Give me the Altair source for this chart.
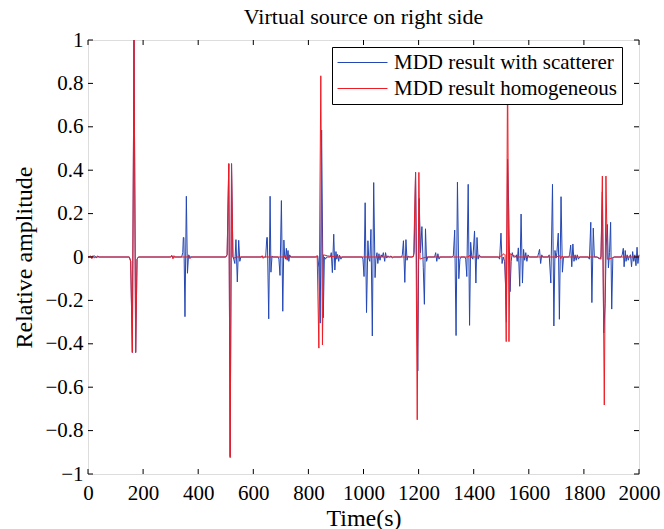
import altair as alt
import pandas as pd

# ---- MDD result with scatterer (blue trace): time (s) and relative amplitude ----
scatter_t = [
    0, 10, 25, 30, 35, 40, 150, 155, 161, 167, 173, 178, 183,
    300, 305, 310, 315, 340, 344, 346, 348, 352, 357, 361, 365, 370,
    500, 505, 511, 516, 521, 526, 529, 533, 537, 542, 547, 551, 555,
    640, 645, 649, 651, 656, 661, 664, 668, 672,
    690, 693, 697, 702, 707, 711, 714, 717, 720, 723, 726, 729, 732, 736,
    830, 834, 838, 843, 848, 854, 858, 862, 866, 880, 883, 887, 892, 896,
    900, 903, 906, 910, 913, 918, 922,
    995, 998, 1002, 1006, 1011, 1016, 1019, 1023, 1027, 1032, 1037, 1042,
    1045, 1049, 1052, 1056, 1060, 1064, 1068, 1072, 1077, 1080, 1084, 1088,
    1095, 1100, 1105, 1110,
    1138, 1141, 1145, 1150, 1154, 1158, 1162, 1166,
    1180, 1184, 1189, 1194, 1197, 1202, 1207, 1212, 1217, 1221, 1225, 1229,
    1233, 1258, 1262, 1266, 1270, 1274, 1278,
    1320, 1326, 1331, 1336, 1341, 1346, 1350, 1354,
    1368, 1371, 1375, 1380, 1385, 1389, 1393, 1397, 1403, 1408, 1412, 1416,
    1420, 1425,
    1490, 1494, 1499, 1503, 1507, 1512, 1516, 1519, 1523, 1527, 1532, 1536,
    1540, 1544,
    1552, 1555, 1558, 1562, 1567, 1572, 1577, 1581, 1585, 1589, 1593, 1597, 1602,
    1632, 1636, 1639, 1643, 1647, 1651,
    1670, 1674, 1680, 1686, 1691, 1695, 1699, 1702, 1707, 1711, 1717, 1722, 1726,
    1745, 1748, 1752, 1756, 1760, 1764, 1768, 1772, 1776, 1780, 1785,
    1815, 1820, 1825, 1829, 1834, 1838, 1850, 1856, 1862, 1867, 1872, 1877,
    1881, 1885, 1889, 1893, 1897, 1901, 1905, 1909,
    1935, 1939, 1943, 1946, 1950, 1953, 1957, 1961, 1965, 1969, 1973, 1977,
    1981, 1985, 1989, 1993, 1996, 2000,
]
scatter_amp = [
    0, 0.0, 0.005, -0.005, 0.005, 0, 0, -0.02, -0.44, 1.0, -0.44, -0.01, 0,
    0, 0.005, -0.005, 0, 0, 0.02, 0.09, 0.09, -0.275, 0.28, -0.075, 0.01, 0,
    0, 0.01, 0.43, -0.92, 0.43, 0.0, -0.01, -0.03, 0.08, -0.115, 0.077, -0.02, 0.0,
    0, 0.0, 0.09, 0.09, -0.285, 0.28, -0.07, 0.005, 0,
    0, -0.01, -0.085, 0.26, -0.25, 0.078, 0.0, -0.01, 0.04, -0.015, 0.03, -0.02, 0.01, 0,
    0, 0.005, -0.05, -0.305, 0.585, -0.28, 0.0, -0.01, 0.0, 0.0, 0.02, -0.072, 0.105, -0.06,
    0.025, -0.01, 0.012, -0.02, 0.008, -0.01, 0.0,
    0, -0.01, -0.09, 0.25, -0.256, 0.075, -0.005, -0.02, 0.127, -0.364, 0.343, -0.095,
    -0.01, 0.02, -0.03, 0.015, -0.015, 0.01, 0, 0.02, -0.02, 0.02, -0.005, 0.005,
    0, 0.005, -0.005, 0,
    0, 0.01, 0.075, -0.117, 0.08, -0.015, 0.005, 0,
    0, 0.02, 0.39, -0.2, -0.525, 0.27, 0.02, 0.14, -0.05, -0.218, 0.13, -0.02,
    0.0, 0, 0.02, -0.02, 0.015, -0.01, 0,
    0, 0.005, 0.124, -0.362, 0.345, -0.1, -0.01, 0.0,
    0, -0.01, -0.09, 0.335, -0.315, 0.068, 0.0, -0.01, 0.12, -0.12, 0.09, -0.01,
    0.01, 0,
    0, -0.01, 0.11, -0.03, 0.0, -0.02, -0.14, -0.3, 0.45, 0.23, -0.16, -0.02,
    0.02, 0,
    0, 0.01, -0.02, 0.042, -0.135, 0.198, -0.12, 0.035, -0.015, 0.02, -0.02, 0.01, 0,
    0, 0.02, 0.035, -0.03, 0.01, 0,
    0, 0.01, -0.12, 0.335, -0.318, 0.03, -0.005, 0.02, 0.11, -0.287, 0.278, -0.07, 0.0,
    0, 0.01, 0.055, -0.045, 0.06, -0.02, 0.01, -0.015, 0.01, -0.01, 0.0,
    0, -0.01, 0.16, -0.21, 0.133, 0.0, 0.0, -0.01, 0.0, 0.3, -0.35, -0.213,
    0.05, 0.15, -0.05, 0.02, 0.16, -0.24, -0.005, 0.0,
    0, 0.01, 0.04, -0.045, 0.03, -0.02, 0.01, -0.015, 0.005, 0.01, -0.045, 0.025,
    -0.02, 0.01, -0.04, 0.045, -0.03, 0.01,
]

# ---- MDD result homogeneous (red trace) ----
homog_t = [
    0, 10, 14, 18, 22, 26, 150, 155, 161, 167, 173, 178, 183,
    300, 304, 308, 312, 316, 362, 366, 370, 374,
    500, 505, 511, 516, 521, 526, 530, 540,
    628, 632, 636, 640, 712, 716, 720, 724, 728,
    825, 832, 838, 845, 851, 855, 870, 900,
    1175, 1182, 1189, 1195, 1201, 1205, 1215, 1230,
    1380, 1385, 1389, 1393,
    1490, 1500, 1510, 1514, 1518, 1523, 1528, 1532, 1540, 1555,
    1700, 1712, 1716, 1720, 1725,
    1845, 1856, 1862, 1867, 1874, 1880, 1885, 1895, 1910, 2000,
]
homog_amp = [
    0, 0.005, -0.008, 0.006, -0.005, 0, 0, -0.02, -0.44, 1.0, -0.44, -0.01, 0,
    0, 0.008, -0.008, 0.006, 0, 0, 0.008, -0.008, 0,
    0, 0.01, 0.43, -0.925, 0.43, 0.0, -0.005, 0,
    0, 0.006, -0.006, 0, 0, 0.006, -0.008, 0.005, 0,
    0.0, 0.006, -0.42, 0.835, -0.405, 0.01, 0.005, 0.0,
    0, 0.005, 0.39, -0.75, 0.39, -0.01, -0.005, 0,
    0, 0.008, -0.006, 0,
    0, 0.005, 0.015, 0.01, -0.39, 0.9, -0.39, 0.015, 0.01, 0.0,
    0, 0.006, -0.008, 0.004, 0,
    0, -0.005, -0.01, 0.373, -0.682, 0.373, -0.01, -0.008, 0, 0,
]

series_names = ["MDD result with scatterer", "MDD result homogeneous"]
series_colors = ["#2447b3", "#ee1c25"]

x_tick_values = [0, 200, 400, 600, 800, 1000, 1200, 1400, 1600, 1800, 2000]
y_tick_values = [-1, -0.8, -0.6, -0.4, -0.2, 0, 0.2, 0.4, 0.6, 0.8, 1]

W, H = 551, 434
FONT = "Liberation Serif"

traces = pd.concat([
    pd.DataFrame({"t": scatter_t, "amp": scatter_amp, "series": series_names[0]}),
    pd.DataFrame({"t": homog_t, "amp": homog_amp, "series": series_names[1]}),
], ignore_index=True)

x_scale = alt.Scale(domain=[0, 2000], nice=False, zero=False)
y_scale = alt.Scale(domain=[-1, 1], nice=False, zero=False)
color_scale = alt.Scale(domain=series_names, range=series_colors)

x_axis = alt.Axis(
    values=x_tick_values, format="d", ticks=False, domain=False, grid=False,
    labelOverlap=False, labelFlush=False, labelPadding=8, labelFontSize=21,
    labelFont=FONT, labelColor="black",
    title="Time(s)", titleFont=FONT, titleFontSize=24, titleFontWeight="normal",
    titleColor="black", titleY=44, titleBaseline="middle",
)
y_axis = alt.Axis(
    values=y_tick_values, format="~g", ticks=False, domain=False, grid=False,
    labelOverlap=False, labelFlush=False, labelPadding=5, labelFontSize=21,
    labelFont=FONT, labelColor="black",
    title="Relative amplitude", titleFont=FONT, titleFontSize=24,
    titleFontWeight="normal", titleColor="black", titleX=-64, titleY=H / 2,
    titleBaseline="middle", titleAlign="center",
)

legend = alt.Legend(
    title=None, orient="none", legendX=244, legendY=7, direction="vertical",
    symbolType="stroke", symbolSize=2500, symbolStrokeWidth=1, clipHeight=21,
    labelFont=FONT, labelFontSize=21, labelColor="black", labelOffset=6,
    labelLimit=400, padding=5, rowPadding=4,
    strokeColor="black", fillColor="white",
)

base = alt.Chart(traces).encode(
    x=alt.X("t:Q", scale=x_scale, axis=x_axis),
    y=alt.Y("amp:Q", scale=y_scale, axis=y_axis),
    color=alt.Color("series:N", scale=color_scale, legend=legend),
)

# blue trace first, red trace drawn over it
blue = base.mark_line(strokeWidth=1).transform_filter(
    alt.datum.series == series_names[0])
red = base.mark_line(strokeWidth=1).transform_filter(
    alt.datum.series == series_names[1])

# inward-pointing tick marks on all four sides of the box
xt = pd.DataFrame({"t": x_tick_values})
yt = pd.DataFrame({"amp": y_tick_values})
tick_len = 5
bottom_ticks = alt.Chart(xt).mark_rule(color="black", strokeWidth=1).encode(
    x=alt.X("t:Q", scale=x_scale), y=alt.value(H), y2=alt.value(H - tick_len))
top_ticks = alt.Chart(xt).mark_rule(color="black", strokeWidth=1).encode(
    x=alt.X("t:Q", scale=x_scale), y=alt.value(0), y2=alt.value(tick_len))
left_ticks = alt.Chart(yt).mark_rule(color="black", strokeWidth=1).encode(
    y=alt.Y("amp:Q", scale=y_scale), x=alt.value(0), x2=alt.value(tick_len))
right_ticks = alt.Chart(yt).mark_rule(color="black", strokeWidth=1).encode(
    y=alt.Y("amp:Q", scale=y_scale), x=alt.value(W), x2=alt.value(W - tick_len))

chart = alt.layer(
    blue, red, bottom_ticks, top_ticks, left_ticks, right_ticks
).properties(
    width=W, height=H,
    title=alt.Title("Virtual source on right side", font=FONT, fontSize=22,
                    fontWeight="normal", color="black", anchor="middle",
                    frame="group", offset=0),
    autosize=alt.AutoSizeParams(type="none"),
    padding={"left": 88, "top": 40, "right": 25, "bottom": 55},
).configure_view(
    stroke="black", strokeWidth=1, fill="white",
).configure(background="white")

chart.save("out.html", embed_options={"renderer": "svg", "actions": False})
